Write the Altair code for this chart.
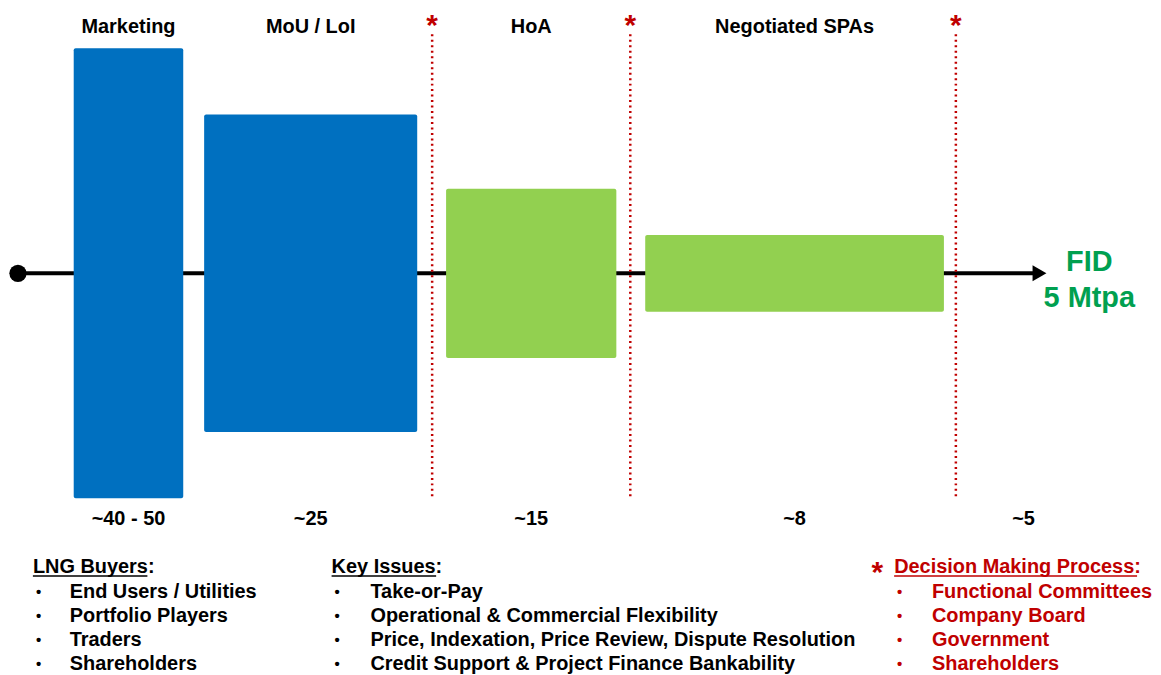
import altair as alt
import pandas as pd

# ---- data ----
stages = ["Marketing", "MoU / LoI", "HoA", "Negotiated SPAs"]
stage_counts = ["~40 - 50", "~25", "~15", "~8"]
final_count = "~5"
bar_left = [74, 205, 448, 648]
bar_right = [184, 419, 619, 948]
bar_half = [226, 159.5, 85, 38.5]
bar_colors = ["#0070C0", "#0070C0", "#92D050", "#92D050"]
decision_x = [434, 633, 960]

buyers_title = "LNG Buyers"
buyers = ["End Users / Utilities", "Portfolio Players", "Traders", "Shareholders"]
issues_title = "Key Issues"
issues = ["Take-or-Pay", "Operational & Commercial Flexibility",
          "Price, Indexation, Price Review, Dispute Resolution",
          "Credit Support & Project Finance Bankability"]
decision_title = "Decision Making Process"
decisions = ["Functional Committees", "Company Board", "Government", "Shareholders"]

FONT = "Liberation Sans"
RED = "#C00000"
GREEN_TXT = "#00A050"
AXIS_Y = 273

X = alt.Scale(domain=[8, 1153])
Y = alt.Scale(domain=[667, 8])


def enc(**kw):
    out = {}
    for k, v in kw.items():
        if k == "x":
            out[k] = alt.X(v, type="quantitative", scale=X, axis=None)
        elif k == "x2":
            out[k] = alt.X2(v)
        elif k == "y":
            out[k] = alt.Y(v, type="quantitative", scale=Y, axis=None)
        elif k == "y2":
            out[k] = alt.Y2(v)
        else:
            out[k] = v
    return out


# bars
bars_df = pd.DataFrame({
    "stage": stages, "l": bar_left, "r": bar_right,
    "top": [AXIS_Y - h for h in bar_half], "bot": [AXIS_Y + h for h in bar_half],
    "c": bar_colors,
})
bars = alt.Chart(bars_df).mark_rect(cornerRadius=2).encode(
    **enc(x="l", x2="r", y="top", y2="bot"),
    color=alt.Color("c:N", scale=None),
)

# axis line
line_df = pd.DataFrame({"x": [18], "x2": [1040], "y": [AXIS_Y]})
axis_line = alt.Chart(line_df).mark_rule(color="black", strokeWidth=4).encode(
    **enc(x="x", x2="x2", y="y"))
dot = alt.Chart(pd.DataFrame({"x": [18], "y": [AXIS_Y]})).mark_point(
    filled=True, color="black", size=300, opacity=1, shape="circle").encode(**enc(x="x", y="y"))
arrow = alt.Chart(pd.DataFrame({"x": [1044], "y": [AXIS_Y]})).mark_point(
    filled=True, color="black", size=260, opacity=1, shape="triangle-right").encode(**enc(x="x", y="y"))

# decision lines
dec_df = pd.DataFrame({"x": decision_x, "y": [33] * 3, "y2": [498] * 3, "ys": [25] * 3})
dec_lines = alt.Chart(dec_df).mark_rule(color=RED, strokeWidth=2.5, strokeDash=[2, 3.5]).encode(
    **enc(x="x", y="y", y2="y2"))
dec_stars = alt.Chart(dec_df).mark_text(
    text="*", color=RED, font=FONT, fontSize=30, fontWeight="bold", baseline="middle").encode(
    **enc(x="x", y="ys"))

# stage titles and counts
centers = [(a + b) / 2 for a, b in zip(bar_left, bar_right)]
title_df = pd.DataFrame({"x": centers, "y": [26] * 4, "t": stages})
titles = alt.Chart(title_df).mark_text(
    font=FONT, fontSize=20, fontWeight="bold", color="black", baseline="middle").encode(
    **enc(x="x", y="y"), text="t:N")
cnt_df = pd.DataFrame({"x": centers + [1028], "y": [520] * 5, "t": stage_counts + [final_count]})
counts = alt.Chart(cnt_df).mark_text(
    font=FONT, fontSize=20, fontWeight="bold", color="black", baseline="middle").encode(
    **enc(x="x", y="y"), text="t:N")

# FID
fid_df = pd.DataFrame({"x": [1094, 1094], "y": [262, 298], "t": ["FID", "5 Mtpa"]})
fid = alt.Chart(fid_df).mark_text(
    font=FONT, fontSize=29, fontWeight="bold", color=GREEN_TXT, baseline="middle").encode(
    **enc(x="x", y="y"), text="t:N")


# bottom lists
def block(title, items, xb, xt, color, ul_w):
    head = pd.DataFrame([{"x": xb, "y": 568, "t": title + ":"}])
    brow, trow = [], []
    for i, it in enumerate(items):
        brow.append({"x": xb + 3, "y": 593 + 24 * i, "t": "•"})
        trow.append({"x": xt, "y": 593 + 24 * i, "t": it})
    style = dict(font=FONT, fontWeight="bold", color=color, baseline="middle", align="left")
    h = alt.Chart(head).mark_text(fontSize=20, **style).encode(**enc(x="x", y="y"), text="t:N")
    b = alt.Chart(pd.DataFrame(brow)).mark_text(fontSize=15, **style).encode(**enc(x="x", y="y"), text="t:N")
    t = alt.Chart(pd.DataFrame(trow)).mark_text(fontSize=20, **style).encode(**enc(x="x", y="y"), text="t:N")
    ul = alt.Chart(pd.DataFrame({"x": [xb], "x2": [xb + ul_w], "y": [577]})).mark_rule(
        color=color, strokeWidth=1.5).encode(**enc(x="x", x2="x2", y="y"))
    return h + b + t + ul


b1 = block(buyers_title, buyers, 33, 70, "black", 115)
b2 = block(issues_title, issues, 333, 372, "black", 105)
b3 = block(decision_title, decisions, 898, 936, RED, 244)
legend_star = alt.Chart(pd.DataFrame({"x": [881], "y": [574]})).mark_text(
    text="*", color=RED, font=FONT, fontSize=30, fontWeight="bold", baseline="middle").encode(
    **enc(x="x", y="y"))

chart = alt.layer(
    axis_line, bars, dot, arrow, dec_lines, dec_stars, titles, counts, fid, b1, b2, b3, legend_star
).properties(width=1145, height=659, padding=0).configure_view(stroke=None)

chart.save("out.html", embed_options={"renderer": "svg", "actions": False})
